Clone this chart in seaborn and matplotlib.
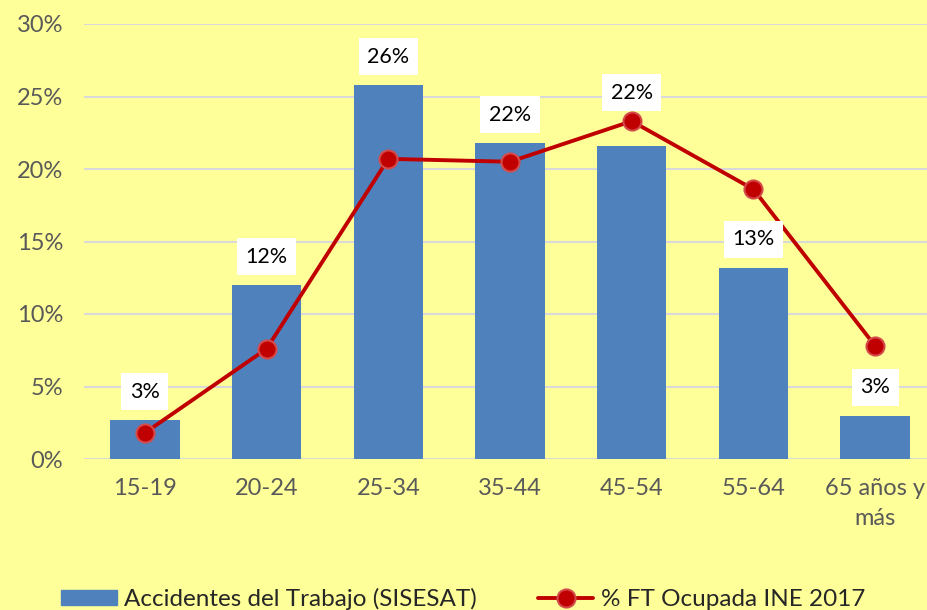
import matplotlib
matplotlib.use("Agg")
import matplotlib.pyplot as plt
import matplotlib.patches as mpatches
from matplotlib.lines import Line2D
from matplotlib.ticker import PercentFormatter
import seaborn as sns
import pandas as pd

categories = ["15-19", "20-24", "25-34", "35-44", "45-54", "55-64", "65 años y\nmás"]
accidentes = [2.7, 12.0, 25.8, 21.8, 21.6, 13.2, 3.0]
ft_ocupada = [1.8, 7.6, 20.7, 20.5, 23.3, 18.6, 7.8]
bar_labels = ["3%", "12%", "26%", "22%", "22%", "13%", "3%"]

BG = "#FFFF99"
BLUE = "#4F81BD"
RED = "#C00000"

sns.set_theme(style="white")
plt.rcParams["font.family"] = ["Lato", "DejaVu Sans"]

df = pd.DataFrame({"grupo": categories, "acc": accidentes, "ft": ft_ocupada})

fig = plt.figure(figsize=(9.27, 6.10), dpi=100, facecolor=BG)
ax = fig.add_axes([84 / 927, 151 / 610, 852 / 927, 435 / 610])
ax.set_facecolor(BG)

sns.barplot(data=df, x="grupo", y="acc", color=BLUE, width=0.57, ax=ax,
            saturation=1, zorder=2, edgecolor="none", linewidth=0)
sns.pointplot(data=df, x="grupo", y="ft", color=RED, markers="o", markersize=13,
              linewidth=2.8, ax=ax, zorder=4)
for ln in ax.lines:
    ln.set_markeredgecolor("#D44A4A")
    ln.set_markeredgewidth(1.5)

# data labels (45-54 label sits above the line marker)
for i, txt in enumerate(bar_labels):
    base = max(accidentes[i], ft_ocupada[i]) if i == 4 else accidentes[i]
    ax.text(i, base + 1.95, txt, ha="center", va="center", fontsize=15.5,
            color="black", zorder=6,
            bbox=dict(boxstyle="square,pad=0.4", fc="white", ec="none"))

ax.set_ylim(0, 30)
ax.set_yticks(range(0, 31, 5))
ax.yaxis.set_major_formatter(PercentFormatter(decimals=0))
ax.grid(axis="y", color="#D9D9D9", linewidth=1.5, zorder=0)
ax.set_axisbelow(True)
for s in ax.spines.values():
    s.set_visible(False)
ax.set_xlabel("")
ax.set_ylabel("")
ax.tick_params(axis="both", length=0, labelsize=17, labelcolor="#595959")
ax.tick_params(axis="y", pad=15)
ax.tick_params(axis="x", pad=14)
for lab in ax.get_xticklabels():
    lab.set_linespacing(1.5)

handles = [
    mpatches.Patch(color=BLUE, label="Accidentes del Trabajo (SISESAT)"),
    Line2D([0], [0], color=RED, lw=2.8, marker="o", markersize=13,
           markeredgecolor="#D44A4A", markeredgewidth=1.5, label="% FT Ocupada INE 2017"),
]
fig.legend(handles=handles, loc="center", bbox_to_anchor=(463 / 927, 11 / 610),
           ncol=2, frameon=False, fontsize=17.5, handlelength=2.3, handleheight=0.6,
           columnspacing=2.5, handletextpad=0.3)

fig.savefig("out.png", dpi=100, facecolor=BG)
